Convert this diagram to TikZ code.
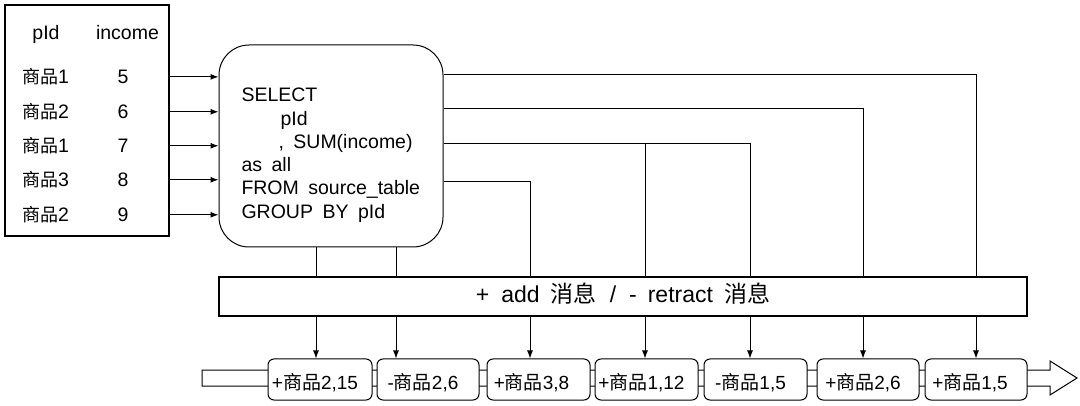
\documentclass[tikz,border=0pt]{standalone}
\usepackage{fontspec}
\setmainfont{Liberation Sans}
\newfontfamily\cjk{Noto Sans CJK SC}
\usetikzlibrary{arrows.meta,calc}
\newcommand\spz{{\fontsize{18}{22}\selectfont\cjk 商品}}
\newcommand\sqlfnt{\fontsize{19.5}{23}\selectfont\spaceskip=9.5pt plus 1pt minus 1pt\relax}
\begin{document}
\begin{tikzpicture}[x=1pt,y=-1pt,line width=1pt,
  arr/.style={-{Latex[length=8pt,width=6pt]}},
  tab/.style={font=\fontsize{19.5}{22}\selectfont, anchor=base},
  sqlt/.style={font=\sqlfnt, anchor=base west, inner sep=0},
  msg/.style={draw, rounded corners=6pt, fill=white, minimum width=#1, minimum height=41pt, inner sep=0},
  msgt/.style={font=\fontsize{19}{22}\selectfont, anchor=base, inner sep=0}]
\useasboundingbox (0,0) rectangle (1080,406);
% table
\node[draw, line width=1.3pt, minimum width=164pt, minimum height=231pt, inner sep=0] (tbl) at (87,120.5) {};
\node[tab] (hp) at (46,39.5) {pId};
\node[tab] (hi) at (127.5,39.5) {income};
\node[tab] (k1) at (45.5,83.5) {\spz 1};  \node[tab] (n1) at (123,83.5) {5};
\node[tab] (k2) at (45.5,118.5) {\spz 2}; \node[tab] (n2) at (123,118.5) {6};
\node[tab] (k3) at (45.5,152.5) {\spz 1}; \node[tab] (n3) at (123,152.5) {7};
\node[tab] (k4) at (45.5,186.5) {\spz 3}; \node[tab] (n4) at (123,186.5) {8};
\node[tab] (k5) at (45.5,221.5) {\spz 2}; \node[tab] (n5) at (123,221.5) {9};
% sql box
\node[draw, rounded corners=30pt, minimum width=224pt, minimum height=202pt, inner sep=0] (sql) at (331,146) {};
\node[sqlt] (q1) at (241,102) {SELECT};
\node[sqlt] (q2) at (280,125.5) {pId};
\node[sqlt] (q3) at (278,149) {, SUM(income)};
\node[sqlt] (q4) at (241,172) {as all};
\node[sqlt] (q5) at (241,195) {FROM source\_table};
\node[sqlt] (q6) at (241,218.5) {GROUP BY pId};
% inputs
\foreach \i in {1,...,5} \draw[arr] (tbl.east |- n\i) -- (sql.west |- n\i);
% add box
\node[draw, line width=1.2pt, minimum width=808pt, minimum height=39pt, inner sep=0] (add) at (623,296.5) {};
\node[anchor=base, inner sep=0, font=\fontsize{23}{26}\selectfont] (addt) at ($(add.center)+(0,6.5)$)
  {+\hspace{12pt}add\hspace{11pt}{\cjk 消息}\hspace{13pt}/\hspace{13pt}-\hspace{11pt}retract\hspace{11pt}{\cjk 消息}};
% stream arrow
\draw[fill=white] (202,370) -- (1050,370) -- (1050,361) -- (1077,378) -- (1050,395) -- (1050,386) -- (202,386) -- cycle;
% messages
\node[msg=104pt] (b1) at (320,379.5) {};
\node[msg=102pt] (b2) at (428,379.5) {};
\node[msg=103pt] (b3) at (538.5,379.5) {};
\node[msg=103pt] (b4) at (646.5,379.5) {};
\node[msg=103pt] (b5) at (755.5,379.5) {};
\node[msg=102pt] (b6) at (868,379.5) {};
\node[msg=102pt] (b7) at (976,379.5) {};
\node[msgt] (t1) at ($(b1.center)+(-5,9.5)$) {+{\cjk 商品}2,15};
\node[msgt] (t2) at ($(b2.center)+(-5,9.5)$) {-{\cjk 商品}2,6};
\node[msgt] (t3) at ($(b3.center)+(-7,9.5)$) {+{\cjk 商品}3,8};
\node[msgt] (t4) at ($(b4.center)+(-5,9.5)$) {+{\cjk 商品}1,12};
\node[msgt] (t5) at ($(b5.center)+(-5,9.5)$) {-{\cjk 商品}1,5};
\node[msgt] (t6) at ($(b6.center)+(-5,9.5)$) {+{\cjk 商品}2,6};
\node[msgt] (t7) at ($(b7.center)+(-6,9.5)$) {+{\cjk 商品}1,5};
% columns
\coordinate (xa) at (316,0); \coordinate (xb) at (396,0); \coordinate (xc) at (530,0);
\coordinate (xd) at (645,0); \coordinate (xe) at (750,0); \coordinate (xf) at (863,0);
\coordinate (xg) at (976,0);
\coordinate (ya) at (0,75); \coordinate (yb) at (0,109); \coordinate (yc) at (0,144); \coordinate (yd) at (0,182);
\draw (xa |- sql.south) -- (xa |- add.north);
\draw (xb |- sql.south) -- (xb |- add.north);
\draw (sql.east |- ya) -- (xg |- ya) -- (xg |- add.north);
\draw (sql.east |- yb) -- (xf |- yb) -- (xf |- add.north);
\draw (sql.east |- yc) -- (xe |- yc) -- (xe |- add.north);
\draw (xd |- yc) -- (xd |- add.north);
\draw (sql.east |- yd) -- (xc |- yd) -- (xc |- add.north);
\draw[arr] (xa |- add.south) -- (xa |- b1.north);
\draw[arr] (xb |- add.south) -- (xb |- b2.north);
\draw[arr] (xc |- add.south) -- (xc |- b3.north);
\draw[arr] (xd |- add.south) -- (xd |- b4.north);
\draw[arr] (xe |- add.south) -- (xe |- b5.north);
\draw[arr] (xf |- add.south) -- (xf |- b6.north);
\draw[arr] (xg |- add.south) -- (xg |- b7.north);
\end{tikzpicture}
\end{document}
